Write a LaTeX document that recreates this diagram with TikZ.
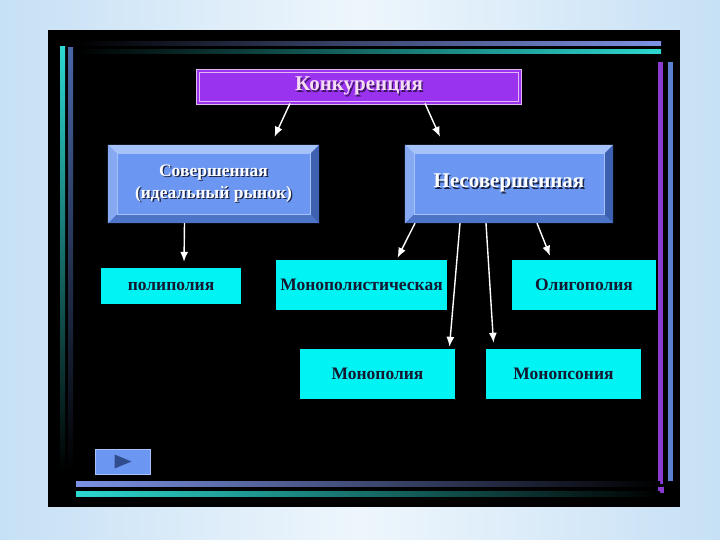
\documentclass[tikz,border=0pt]{standalone}
\usepackage{fontspec}
\setmainfont{Liberation Serif}
\usetikzlibrary{arrows.meta}

\definecolor{bgside}{HTML}{C6E0F5}
\definecolor{bgmid}{HTML}{EEF6FC}
\definecolor{konkfill}{HTML}{9933F0}
\definecolor{konkline}{HTML}{E2B8F2}
\definecolor{konktext}{HTML}{F6DCF4}
\definecolor{bevface}{HTML}{6B97F2}
\definecolor{bevtop}{HTML}{A6C2FA}
\definecolor{bevleft}{HTML}{86A9F2}
\definecolor{bevbottom}{HTML}{4E74C8}
\definecolor{bevright}{HTML}{3E60B0}
\definecolor{cyanbox}{HTML}{00F4F4}
\definecolor{boxtext}{HTML}{141830}
\definecolor{shadowc}{HTML}{1C2448}
\definecolor{barblue}{HTML}{7C92E4}
\definecolor{barcyan}{HTML}{2CD8D0}
\definecolor{barpurple}{HTML}{8A3CD0}
\definecolor{barsteel}{HTML}{5C80D0}

\newcommand{\shtxt}[2][shadowc]{\leavevmode\rlap{\hspace{1.3pt}\raisebox{-1.3pt}{\color{#1}#2}}#2}

\begin{document}
\begin{tikzpicture}[
		x=1pt,y=-1pt,
		head/.style={
			draw=konkline,
			double=konkfill,
			double distance=2.2pt,
			line width=.8pt,
			fill=konkfill,
			inner sep=0pt,
			minimum width=322pt,
			minimum height=32pt,
			font=\bfseries\fontsize{21}{24}\selectfont,
			text=konktext
		},
		bevel/.style={
			fill=bevface,
			inner sep=0pt,
			minimum height=78pt,
			align=center,
			text=white,
			font=\bfseries\fontsize{17.5}{22}\selectfont
		},
		kind/.style={
			fill=cyanbox,
			inner sep=0pt,
			minimum height=50pt,
			text=boxtext,
			font=\bfseries\fontsize{17.5}{20}\selectfont
		},
		link/.style={
			->,
			white,
			line width=1.4pt
		},
		>={Latex[length=10pt,width=8pt]}
		]
		% background and frame
		\shade[left color=bgside, right color=bgside, middle color=bgmid] (0,0) rectangle (720,540);
		\useasboundingbox (0,0) rectangle (720,540);
		\fill[black] (48,30) rectangle (680,507);
		
		\shade[left color=black, right color=barblue] (75,42) rectangle (661,46);
		\shade[left color=black, right color=barcyan] (75,50) rectangle (661,54);
		\shade[top color=barcyan, bottom color=black] (60,47) rectangle (65,472);
		\shade[top color=barsteel!80!black, bottom color=black] (68,48) rectangle (73,472);
		\fill[barpurple] (658,62) rectangle (663,484);
		\fill[barsteel] (668,62) rectangle (673,481);
		\fill[barpurple] (658,487) rectangle (664,493);
		\shade[left color=barblue, right color=black] (76,481) rectangle (660,486);
		\shade[left color=barcyan, right color=black] (76,491) rectangle (660,496);
		
		% boxes
		\node[head] (konk) at (359,87) {\shtxt[konkfill!40!black]{Конкуренция}};
		
		\node[bevel, minimum width=211pt] (sover) at (213.5,184)
			{\shtxt{Совершенная}\\\shtxt{(идеальный рынок)}};
		\node[bevel, minimum width=208pt, font=\bfseries\fontsize{21}{24}\selectfont] (nesover) at (509,184)
			{\shtxt{Несовершенная}};
		
		\foreach \b in {sover,nesover}
		{
			\fill[bevtop] (\b.north west) -- (\b.north east) -- ([shift={(-9,9)}]\b.north east) -- ([shift={(9,9)}]\b.north west) -- cycle;
			\fill[bevbottom] (\b.south west) -- (\b.south east) -- ([shift={(-9,-9)}]\b.south east) -- ([shift={(9,-9)}]\b.south west) -- cycle;
			\fill[bevleft] (\b.north west) -- (\b.south west) -- ([shift={(9,-9)}]\b.south west) -- ([shift={(9,9)}]\b.north west) -- cycle;
			\fill[bevright] (\b.north east) -- (\b.south east) -- ([shift={(-9,-9)}]\b.south east) -- ([shift={(-9,9)}]\b.north east) -- cycle;
			\draw[bevtop, line width=.6pt] ([shift={(9,9)}]\b.north west) rectangle ([shift={(-9,-9)}]\b.south east);
		}
		
		\node[kind, minimum width=140pt, minimum height=36pt] (polip) at (171,286) {полиполия};
		\node[kind, minimum width=171pt] (monopolist) at (361.5,285) {Монополистическая};
		\node[kind, minimum width=144pt] (oligop) at (584,285) {Олигополия};
		\node[kind, minimum width=155pt] (monopol) at (377.5,374) {Монополия};
		\node[kind, minimum width=155pt] (monopson) at (563.5,374) {Монопсония};
		
		% connectors
		\draw[link] ([xshift=-69pt]konk.south) -- ([xshift=61pt,yshift=8pt]sover.north);
		\draw[link] ([xshift=66pt]konk.south) -- ([xshift=-69pt,yshift=8pt]nesover.north);
		\draw[link] ([xshift=-29pt]sover.south) -- ([xshift=13pt,yshift=6pt]polip.north);
		\draw[link] ([xshift=-94pt]nesover.south) -- ([xshift=36pt,yshift=2pt]monopolist.north);
		\draw[link] ([xshift=-49pt]nesover.south) -- ([xshift=72pt,yshift=2pt]monopol.north);
		\draw[link] ([xshift=-23pt]nesover.south) -- ([xshift=-70pt,yshift=6pt]monopson.north);
		\draw[link] ([xshift=28pt]nesover.south) -- ([xshift=-34pt,yshift=4pt]oligop.north);
		
		% play button
		\node[fill=bevface, draw=bevtop, line width=.6pt, minimum width=55pt, minimum height=25pt, inner sep=0pt] (play) at (122.5,461.5) {};
		\fill[bevright!80!black] ([xshift=-8pt,yshift=7pt]play.center) -- ([xshift=-8pt,yshift=-7pt]play.center) -- ([xshift=9pt]play.center) -- cycle;
		
		\end{tikzpicture}
\end{document}
